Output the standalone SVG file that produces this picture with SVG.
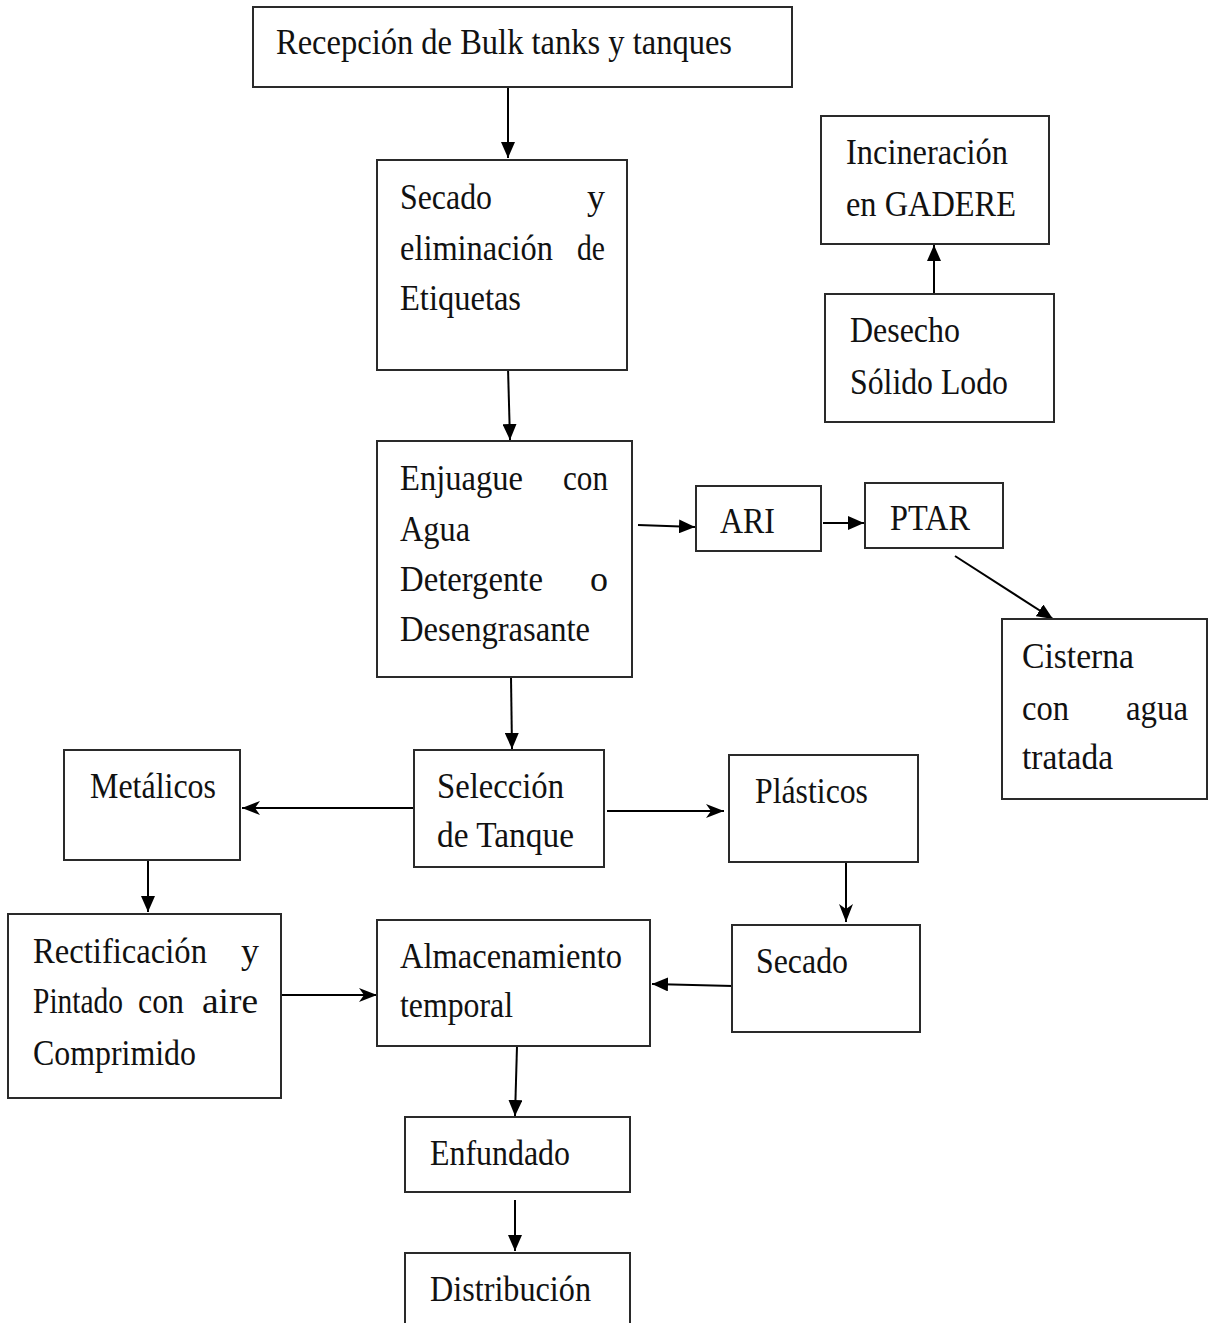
<svg xmlns="http://www.w3.org/2000/svg" width="1208" height="1323" viewBox="0 0 1208 1323">
<style>
.box{fill:#fff;stroke:#2a2a2a;stroke-width:2}
.t{font-family:"Liberation Serif","Times New Roman",serif;font-size:36px;fill:#111}
.e{text-anchor:end}
.c{fill:none;stroke:#000;stroke-width:2}
.fa{marker-end:url(#tri)}
.sa{marker-end:url(#stealth)}
</style>
<defs>
<marker id="tri" markerUnits="userSpaceOnUse" markerWidth="16" markerHeight="14" viewBox="0 0 16 14" refX="16" refY="7" orient="auto">
<path d="M0,0 L16,7 L0,14 Z" fill="#000"/>
</marker>
<marker id="stealth" markerUnits="userSpaceOnUse" markerWidth="18" markerHeight="14" viewBox="0 0 18 14" refX="18" refY="7" orient="auto">
<path d="M0,0 L18,7 L0,14 L5,7 Z" fill="#000"/>
</marker>
</defs>
<rect width="1208" height="1323" fill="#fff"/>

<g id="connectors">
<path class="c fa" d="M508,87 L508,158"/>
<path class="c fa" d="M508,368 L510,440"/>
<path class="c fa" d="M511,677 L512,749"/>
<path class="c fa" d="M638,525 L695,527"/>
<path class="c fa" d="M823,523 L864,523"/>
<path class="c fa" d="M955,556 L1053,619"/>
<path class="c fa" d="M934,294 L934,245"/>
<path class="c sa" d="M414,808 L242,808"/>
<path class="c sa" d="M607,811 L724,811"/>
<path class="c fa" d="M148,860 L148,912"/>
<path class="c sa" d="M846,862 L846,922"/>
<path class="c fa" d="M733,986 L652,984"/>
<path class="c sa" d="M278,995 L377,995"/>
<path class="c fa" d="M517,1046 L515,1116"/>
<path class="c fa" d="M515,1200 L515,1251"/>
</g>

<g id="recepcion">
<rect class="box" x="253" y="7" width="539" height="80"/>
<text class="t" x="276" y="54" textLength="456" lengthAdjust="spacingAndGlyphs">Recepción de Bulk tanks y tanques</text>
</g>

<g id="secado-etiquetas">
<rect class="box" x="377" y="160" width="250" height="210"/>
<text class="t" x="400" y="209" textLength="92" lengthAdjust="spacingAndGlyphs">Secado</text>
<text class="t e" x="605" y="209">y</text>
<text class="t" x="400" y="260" textLength="153" lengthAdjust="spacingAndGlyphs">eliminación</text>
<text class="t" x="577" y="260" textLength="28" lengthAdjust="spacingAndGlyphs">de</text>
<text class="t" x="400" y="310" textLength="121" lengthAdjust="spacingAndGlyphs">Etiquetas</text>
</g>

<g id="enjuague">
<rect class="box" x="377" y="441" width="255" height="236"/>
<text class="t" x="400" y="490" textLength="123" lengthAdjust="spacingAndGlyphs">Enjuague</text>
<text class="t" x="563" y="490" textLength="45" lengthAdjust="spacingAndGlyphs">con</text>
<text class="t" x="400" y="541" textLength="70" lengthAdjust="spacingAndGlyphs">Agua</text>
<text class="t" x="400" y="591" textLength="143" lengthAdjust="spacingAndGlyphs">Detergente</text>
<text class="t e" x="608" y="591">o</text>
<text class="t" x="400" y="641" textLength="190" lengthAdjust="spacingAndGlyphs">Desengrasante</text>
</g>

<g id="ari">
<rect class="box" x="696" y="486" width="125" height="65"/>
<text class="t" x="720" y="533" textLength="55" lengthAdjust="spacingAndGlyphs">ARI</text>
</g>

<g id="ptar">
<rect class="box" x="865" y="483" width="138" height="65"/>
<text class="t" x="890" y="530" textLength="80" lengthAdjust="spacingAndGlyphs">PTAR</text>
</g>

<g id="incineracion">
<rect class="box" x="821" y="116" width="228" height="128"/>
<text class="t" x="846" y="164" textLength="162" lengthAdjust="spacingAndGlyphs">Incineración</text>
<text class="t" x="846" y="216" textLength="170" lengthAdjust="spacingAndGlyphs">en GADERE</text>
</g>

<g id="desecho">
<rect class="box" x="825" y="294" width="229" height="128"/>
<text class="t" x="850" y="342" textLength="110" lengthAdjust="spacingAndGlyphs">Desecho</text>
<text class="t" x="850" y="394" textLength="158" lengthAdjust="spacingAndGlyphs">Sólido Lodo</text>
</g>

<g id="cisterna">
<rect class="box" x="1002" y="619" width="205" height="180"/>
<text class="t" x="1022" y="668" textLength="112" lengthAdjust="spacingAndGlyphs">Cisterna</text>
<text class="t" x="1022" y="720" textLength="47" lengthAdjust="spacingAndGlyphs">con</text>
<text class="t" x="1126" y="720" textLength="62" lengthAdjust="spacingAndGlyphs">agua</text>
<text class="t" x="1022" y="769" textLength="91" lengthAdjust="spacingAndGlyphs">tratada</text>
</g>

<g id="metalicos">
<rect class="box" x="64" y="750" width="176" height="110"/>
<text class="t" x="90" y="798" textLength="126" lengthAdjust="spacingAndGlyphs">Metálicos</text>
</g>

<g id="seleccion">
<rect class="box" x="414" y="750" width="190" height="117"/>
<text class="t" x="437" y="798" textLength="127" lengthAdjust="spacingAndGlyphs">Selección</text>
<text class="t" x="437" y="847" textLength="137" lengthAdjust="spacingAndGlyphs">de Tanque</text>
</g>

<g id="plasticos">
<rect class="box" x="729" y="755" width="189" height="107"/>
<text class="t" x="755" y="803" textLength="113" lengthAdjust="spacingAndGlyphs">Plásticos</text>
</g>

<g id="rectificacion">
<rect class="box" x="8" y="914" width="273" height="184"/>
<text class="t" x="33" y="963" textLength="174" lengthAdjust="spacingAndGlyphs">Rectificación</text>
<text class="t e" x="259" y="963">y</text>
<text class="t" x="33" y="1013" textLength="90" lengthAdjust="spacingAndGlyphs">Pintado</text>
<text class="t" x="138" y="1013" textLength="46" lengthAdjust="spacingAndGlyphs">con</text>
<text class="t" x="202" y="1013" textLength="56" lengthAdjust="spacingAndGlyphs">aire</text>
<text class="t" x="33" y="1065" textLength="163" lengthAdjust="spacingAndGlyphs">Comprimido</text>
</g>

<g id="almacenamiento">
<rect class="box" x="377" y="920" width="273" height="126"/>
<text class="t" x="400" y="968" textLength="222" lengthAdjust="spacingAndGlyphs">Almacenamiento</text>
<text class="t" x="400" y="1017" textLength="113" lengthAdjust="spacingAndGlyphs">temporal</text>
</g>

<g id="secado">
<rect class="box" x="732" y="925" width="188" height="107"/>
<text class="t" x="756" y="973" textLength="92" lengthAdjust="spacingAndGlyphs">Secado</text>
</g>

<g id="enfundado">
<rect class="box" x="405" y="1117" width="225" height="75"/>
<text class="t" x="430" y="1165" textLength="140" lengthAdjust="spacingAndGlyphs">Enfundado</text>
</g>

<g id="distribucion">
<rect class="box" x="405" y="1253" width="225" height="90"/>
<text class="t" x="430" y="1301" textLength="161" lengthAdjust="spacingAndGlyphs">Distribución</text>
</g>
</svg>
